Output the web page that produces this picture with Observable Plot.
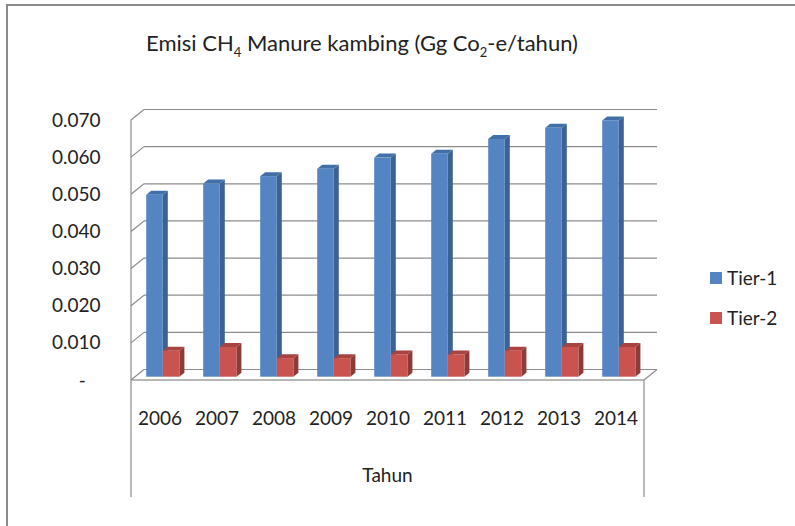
<!DOCTYPE html>
<html>
<head>
<meta charset="utf-8">
<script src="https://cdn.jsdelivr.net/npm/d3@7"></script>
<script src="https://cdn.jsdelivr.net/npm/@observablehq/plot@0.6"></script>
<style>
  html, body { margin: 0; padding: 0; background: #fff; }
  #wrap { position: relative; width: 795px; height: 526px; overflow: hidden; background: #fff; font-family: Lato, sans-serif; color: #222; }
  #wrap svg { position: absolute; left: 0; top: 0; }
  .border-top { position: absolute; left: 6px; top: 4px; width: 789px; height: 2px; background: #8a8a8a; }
  .border-left { position: absolute; left: 6px; top: 4px; width: 2px; height: 522px; background: #8a8a8a; }
  #title { position: absolute; left: 0; top: 32px; width: 724px; text-align: center; font-size: 22px; line-height: 22px; white-space: nowrap; }
  #title sub { font-size: 13px; vertical-align: -6px; line-height: 0; }
  .leg { position: absolute; font-size: 19px; line-height: 19px; white-space: nowrap; }
  .sw { position: absolute; width: 12px; height: 12px; }
</style>
</head>
<body>
<div id="wrap">
  <div class="border-top"></div>
  <div class="border-left"></div>
  <div id="title">Emisi CH<sub>4</sub> Manure kambing (Gg Co<sub>2</sub>-e/tahun)</div>
</div>
<script>
// ---- data ----
const years = ["2006", "2007", "2008", "2009", "2010", "2011", "2012", "2013", "2014"];
const tier1 = [0.049, 0.052, 0.054, 0.056, 0.059, 0.060, 0.064, 0.067, 0.069];
const tier2 = [0.007, 0.008, 0.005, 0.005, 0.006, 0.006, 0.007, 0.008, 0.008];
const seriesNames = ["Tier-1", "Tier-2"];
const yTicks = [0, 0.01, 0.02, 0.03, 0.04, 0.05, 0.06, 0.07];
const xTitle = "Tahun";

// ---- styles ----
const faceColors = {
  "Tier-1": {front: "#5485c2", side: "#3b6292", top: "#416fa8"},
  "Tier-2": {front: "#c8534f", side: "#8e3a37", top: "#a8433f"}
};
const gridColor = "#8c8c8c";
const WALL_DX = 13, WALL_DY = -10.5;   // depth of the 3D box
const BAR_DY = -3.3;                    // bars sit slightly behind the front plane
const BAR_DEPTH_DX = 5, BAR_DEPTH_DY = -4;
const BLUE_L = 15.2, BAR_W = 16.6;

const rows = years.map((y, i) => ({year: y, t1: tier1[i], t2: tier2[i]}));

function bw(x) {
  return x.bandwidth ? x.bandwidth() : (x(years[1]) - x(years[0]));
}

// walls, floor and gridlines of the 3D box
function wall(index, scales) {
  const {x, y} = scales;
  const g = d3.create("svg:g").attr("stroke", gridColor).attr("stroke-width", 1.2).attr("fill", "none");
  const w = bw(x);
  const x0 = x(years[0]);
  const x1 = x(years[years.length - 1]) + w;
  for (const t of yTicks) {
    const yy = y(t);
    g.append("line").attr("x1", x0).attr("y1", yy).attr("x2", x0 + WALL_DX).attr("y2", yy + WALL_DY);
    g.append("line").attr("x1", x0 + WALL_DX).attr("y1", yy + WALL_DY).attr("x2", x1 + WALL_DX).attr("y2", yy + WALL_DY);
  }
  const y0 = y(0), yTop = y(yTicks[yTicks.length - 1]);
  g.append("line").attr("x1", x0).attr("y1", y0).attr("x2", x1).attr("y2", y0).attr("stroke", "#a0a0a0").attr("stroke-width", 1.6);
  g.append("line").attr("x1", x1).attr("y1", y0).attr("x2", x1 + WALL_DX).attr("y2", y0 + WALL_DY);
  g.append("line").attr("x1", x0).attr("y1", yTop).attr("x2", x0).attr("y2", y0 + 117);
  g.append("line").attr("x1", x1).attr("y1", y0).attr("x2", x1).attr("y2", y0 + 117);
  return g.node();
}

// side and top faces of bars for one series
function faces(key, name, left) {
  return function(index, scales) {
    const {x, y} = scales;
    const c = faceColors[name];
    const g = d3.create("svg:g");
    for (const d of rows) {
      const xl = x(d.year) + left, xr = xl + BAR_W;
      const yt = y(d[key]) + BAR_DY, yb = y(0) + BAR_DY;
      const dx = BAR_DEPTH_DX, dy = BAR_DEPTH_DY;
      g.append("polygon").attr("fill", c.side)
        .attr("points", [[xr, yt], [xr + dx, yt + dy], [xr + dx, yb + dy], [xr, yb]].join(" "));
      g.append("polygon").attr("fill", c.top)
        .attr("points", [[xl, yt], [xr, yt], [xr + dx, yt + dy], [xl + dx, yt + dy]].join(" "));
    }
    return g.node();
  };
}

function frontBars(key, name, left) {
  return Plot.barY(rows, {x: "year", y: key, insetLeft: left, insetRight: 0, dy: BAR_DY,
    fill: faceColors[name].front,
    render(index, scales, values, dims, context, next) {
      const node = next(index, scales, values, dims, context);
      d3.select(node).selectAll("rect").attr("width", BAR_W);
      return node;
    }});
}

const W = 795, H = 526;
const plot = Plot.plot({
  width: W, height: H,
  marginLeft: 127, marginRight: 148, marginTop: 120, marginBottom: 146,
  style: {fontFamily: "Lato, sans-serif", fontSize: "19px", color: "#222", background: "transparent", overflow: "visible"},
  x: {type: "band", domain: years, padding: 0, tickSize: 0, tickPadding: 31, label: null},
  y: {domain: [0, 0.07], ticks: yTicks, tickSize: 0, tickPadding: 27, label: null,
      tickFormat: d => d === 0 ? "-\u00a0\u00a0\u00a0" : d3.format(".3f")(d)},
  marks: [
    wall,
    faces("t1", seriesNames[0], BLUE_L),
    frontBars("t1", seriesNames[0], BLUE_L),
    faces("t2", seriesNames[1], BLUE_L + BAR_W),
    frontBars("t2", seriesNames[1], BLUE_L + BAR_W),
    Plot.text([xTitle], {frameAnchor: "bottom", dy: 101, text: d => d, fontSize: 19, fill: "#222"})
  ]
});
const wrap = document.getElementById("wrap");
wrap.insertBefore(plot, wrap.firstChild);

// legend
const legTop = [272, 312];
seriesNames.forEach((n, i) => {
  const sw = document.createElement("div");
  sw.className = "sw";
  sw.style.left = "710px";
  sw.style.top = legTop[i] + "px";
  sw.style.background = faceColors[n].front;
  wrap.appendChild(sw);
  const t = document.createElement("div");
  t.className = "leg";
  t.style.left = "727px";
  t.style.top = (legTop[i] - 4) + "px";
  t.textContent = n;
  wrap.appendChild(t);
});
</script>
</body>
</html>
